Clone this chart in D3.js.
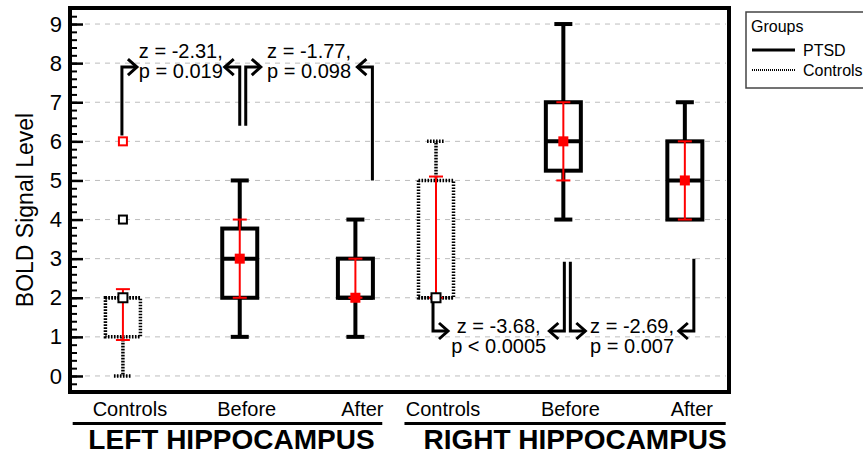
<!DOCTYPE html>
<html>
<head>
<meta charset="utf-8">
<script src="https://cdn.jsdelivr.net/npm/d3@7"></script>
<style>
  body { margin: 0; background: #fff; }
  svg { font-family: "Liberation Sans", Arial, sans-serif; }
</style>
</head>
<body>
<svg width="863" height="457"></svg>
<script>
// box plot values, one entry per box (left hippocampus then right)
const categories = ["Controls", "Before", "After", "Controls", "Before", "After"];
const catPos = [1, 2, 2.99, 3.68, 4.77, 5.81];
const groupOf = ["Controls", "PTSD", "PTSD", "Controls", "PTSD", "PTSD"];
const whiskerLow = [0, 1, 1, 2, 4, 4];
const q1 = [1, 2, 2, 2, 5.25, 4];
const medians = [2, 3, 2, 2, 6, 5];
const q3 = [2, 3.77, 3, 5, 7, 6];
const whiskerHigh = [2, 5, 4, 6, 9, 7];
const means = [2, 3, 2, 2, 6, 5];
const ciLow = [0.92, 2, 2, 2, 5, 4];
const ciHigh = [2.22, 4, 3, 5.1, 7, 6];
const outliers = [
  { cat: 0, value: 4, far: false },
  { cat: 0, value: 6, far: true }
];
const regions = ["LEFT HIPPOCAMPUS", "RIGHT HIPPOCAMPUS"];
const regionSpan = [[0.57, 3.22], [3.41, 6.16]];
const yTicks = [0, 1, 2, 3, 4, 5, 6, 7, 8, 9];

// Mann-Whitney style comparisons drawn as arrows
const tests = [
  { z: "z = -2.31,", p: "p = 0.019", level: 7.9, textY: 8.12, gap: 20,
    arms: [{ cat: 0, dx: -1, from: 6.15, dir: 1 }, { cat: 1, dx: 0, from: 6.4, dir: -1 }] },
  { z: "z = -1.77,", p: "p = 0.098", level: 7.9, textY: 8.12, gap: 20,
    arms: [{ cat: 1, dx: 6, from: 6.4, dir: 1 }, { cat: 2, dx: 17, from: 5, dir: -1 }] },
  { z: "z = -3.68,", p: "p < 0.0005", level: 1.15, textY: 1.1, gap: 20,
    arms: [{ cat: 3, dx: -3, from: 1.9, dir: 1 }, { cat: 4, dx: 1, from: 2.92, dir: -1 }] },
  { z: "z = -2.69,", p: "p = 0.007", level: 1.15, textY: 1.1, gap: 20,
    arms: [{ cat: 4, dx: 7, from: 2.92, dir: 1 }, { cat: 5, dx: 9, from: 3, dir: -1 }] }
];

const FRAME = { left: 70, right: 729, top: 8, bottom: 392 };
const DOTS = "1.6,1.4";

const svg = d3.select("svg");
const x = d3.scaleLinear().domain([0.547, 6.188]).range([FRAME.left, FRAME.right]);
const y = d3.scaleLinear().domain([-0.41, 9.41]).range([FRAME.bottom, FRAME.top]);

// grid
svg.append("g").selectAll("line").data(yTicks).join("line")
  .attr("x1", 85).attr("x2", FRAME.right - 3)
  .attr("y1", d => y(d)).attr("y2", d => y(d))
  .attr("stroke", "#bdbdbd").attr("stroke-width", 1)
  .attr("stroke-dasharray", "5,5");

// y axis: inward ticks, minor every 0.2
svg.append("g")
  .attr("transform", "translate(" + FRAME.left + ",0)")
  .call(d3.axisLeft(y).tickValues(d3.range(-4, 95, 2).map(v => v / 10)).tickSize(-7).tickFormat(""))
  .call(g => g.select(".domain").remove())
  .call(g => g.selectAll("line").attr("stroke", "#000").attr("stroke-width", 2));
svg.append("g")
  .attr("transform", "translate(" + FRAME.left + ",0)")
  .call(d3.axisLeft(y).tickValues(yTicks).tickSize(-13).tickPadding(8).tickFormat(d3.format("d")))
  .call(g => g.select(".domain").remove())
  .call(g => g.selectAll("line").attr("stroke", "#000").attr("stroke-width", 2.5))
  .call(g => g.selectAll("text").attr("font-size", 22).attr("fill", "#000")
    .attr("font-family", "Liberation Sans, Arial, sans-serif"));

svg.append("text")
  .attr("transform", "translate(33,210) rotate(-90)")
  .attr("text-anchor", "middle").attr("font-size", 23)
  .text("BOLD Signal Level");

// boxes
const boxes = categories.map((c, i) => ({
  i, cx: x(catPos[i]), ctrl: groupOf[i] === "Controls"
}));
const bw = 17.5, cap = 9;
const boxG = svg.append("g").selectAll("g").data(boxes).join("g")
  .attr("stroke", "#000").attr("fill", "none")
  .attr("stroke-width", d => d.ctrl ? 3.5 : 4)
  .attr("stroke-dasharray", d => d.ctrl ? DOTS : null);

boxG.each(function (d) {
  const g = d3.select(this), i = d.i;
  if (whiskerHigh[i] > q3[i]) {
    g.append("line").attr("x1", d.cx).attr("x2", d.cx).attr("y1", y(q3[i])).attr("y2", y(whiskerHigh[i]));
    g.append("line").attr("x1", d.cx - cap).attr("x2", d.cx + cap).attr("y1", y(whiskerHigh[i])).attr("y2", y(whiskerHigh[i]));
  }
  if (whiskerLow[i] < q1[i]) {
    g.append("line").attr("x1", d.cx).attr("x2", d.cx).attr("y1", y(q1[i])).attr("y2", y(whiskerLow[i]));
    g.append("line").attr("x1", d.cx - cap).attr("x2", d.cx + cap).attr("y1", y(whiskerLow[i])).attr("y2", y(whiskerLow[i]));
  }
  g.append("rect")
    .attr("x", d.cx - bw).attr("width", bw * 2)
    .attr("y", y(q3[i])).attr("height", y(q1[i]) - y(q3[i]));
  g.append("line").attr("x1", d.cx - bw).attr("x2", d.cx + bw)
    .attr("y1", y(medians[i])).attr("y2", y(medians[i]));
});

// mean +/- bars in red
const ci = svg.append("g").attr("stroke", "#f00").attr("stroke-width", 2);
boxes.forEach(d => {
  const i = d.i;
  ci.append("line").attr("x1", d.cx).attr("x2", d.cx).attr("y1", y(ciLow[i])).attr("y2", y(ciHigh[i]));
  [ciLow[i], ciHigh[i]].forEach(v => ci.append("line")
    .attr("x1", d.cx - 7).attr("x2", d.cx + 7).attr("y1", y(v)).attr("y2", y(v)));
});

svg.append("g").selectAll("rect").data(boxes).join("rect")
  .attr("x", d => d.cx - (d.ctrl ? 4.5 : 5))
  .attr("y", d => y(means[d.i]) - (d.ctrl ? 4.5 : 5))
  .attr("width", d => d.ctrl ? 9 : 10).attr("height", d => d.ctrl ? 9 : 10)
  .attr("fill", d => d.ctrl ? "#fff" : "#f00")
  .attr("stroke", d => d.ctrl ? "#000" : "none").attr("stroke-width", 2);

svg.append("g").selectAll("rect").data(outliers).join("rect")
  .attr("x", d => x(catPos[d.cat]) - 4).attr("y", d => y(d.value) - 4)
  .attr("width", 8).attr("height", 8)
  .attr("fill", "#fff").attr("stroke", d => d.far ? "#f00" : "#000").attr("stroke-width", 2);

// comparison arrows
const ann = svg.append("g");
tests.forEach(t => {
  const ly = y(t.level);
  const xs = [];
  t.arms.forEach(a => {
    const lx = x(catPos[a.cat]) + a.dx;
    const tip = lx + a.dir * 15;
    xs.push(lx);
    ann.append("path")
      .attr("d", "M" + lx + "," + y(a.from) + "V" + ly + "H" + tip)
      .attr("fill", "none").attr("stroke", "#000").attr("stroke-width", 3);
    ann.append("path")
      .attr("d", "M" + (tip - a.dir * 9) + "," + (ly - 8) + "L" + tip + "," + ly + "L" + (tip - a.dir * 9) + "," + (ly + 8))
      .attr("fill", "none").attr("stroke", "#000").attr("stroke-width", 3);
  });
  const mx = (xs[0] + xs[1]) / 2;
  ann.append("text").attr("x", mx).attr("y", y(t.textY))
    .attr("text-anchor", "middle").attr("font-size", 20).text(t.z);
  ann.append("text").attr("x", mx).attr("y", y(t.textY) + t.gap)
    .attr("text-anchor", "middle").attr("font-size", 20).text(t.p);
});

// frame
svg.append("rect")
  .attr("x", FRAME.left).attr("y", FRAME.top)
  .attr("width", FRAME.right - FRAME.left).attr("height", FRAME.bottom - FRAME.top)
  .attr("fill", "none").attr("stroke", "#000").attr("stroke-width", 4);

// category labels and region titles
svg.append("g").selectAll("text").data(categories).join("text")
  .attr("x", (d, i) => x(catPos[i]) + 7).attr("y", 416)
  .attr("text-anchor", "middle").attr("font-size", 20).text(d => d);

const titleNudge = [4, 10];
regions.forEach((r, i) => {
  const x0 = x(regionSpan[i][0]), x1 = x(regionSpan[i][1]);
  svg.append("line").attr("x1", x0).attr("x2", x1).attr("y1", 423.5).attr("y2", 423.5)
    .attr("stroke", "#000").attr("stroke-width", 3);
  svg.append("text").attr("x", (x0 + x1) / 2 + titleNudge[i]).attr("y", 449)
    .attr("text-anchor", "middle").attr("font-size", 28).attr("font-weight", "bold").text(r);
});

// legend
const leg = svg.append("g").attr("transform", "translate(746,12)");
leg.append("rect").attr("width", 130).attr("height", 76)
  .attr("fill", "#fff").attr("stroke", "#444").attr("stroke-width", 1.5);
leg.append("text").attr("x", 5).attr("y", 20).attr("font-size", 16).text("Groups");
const legItems = ["PTSD", "Controls"];
legItems.forEach((k, i) => {
  leg.append("line").attr("x1", 6).attr("x2", 49).attr("y1", 38 + i * 20).attr("y2", 38 + i * 20)
    .attr("stroke", "#000").attr("stroke-width", k === "PTSD" ? 3 : 2)
    .attr("stroke-dasharray", k === "PTSD" ? null : "1,1");
  leg.append("text").attr("x", 57).attr("y", 44 + i * 20).attr("font-size", 16).text(k);
});
</script>
</body>
</html>
